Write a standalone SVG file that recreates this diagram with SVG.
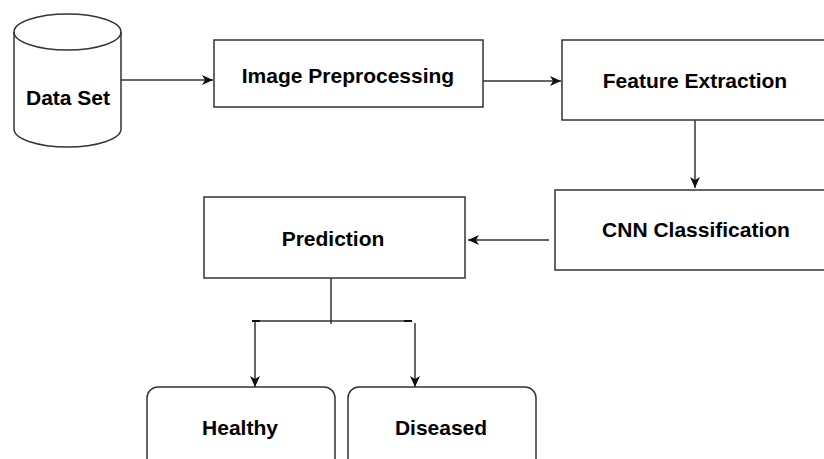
<svg xmlns="http://www.w3.org/2000/svg" width="824" height="459" viewBox="0 0 824 459">
<style>
.box{fill:#fff;stroke:#333;stroke-width:1.5}
.lbl{font-family:"Liberation Sans",Arial,sans-serif;font-weight:bold;font-size:21px;fill:#000;text-anchor:middle}
.edge{fill:none;stroke:#333;stroke-width:1.5}
</style>
<defs>
<marker id="arr" markerWidth="12" markerHeight="10" refX="11" refY="5" orient="auto" markerUnits="userSpaceOnUse">
<path d="M0,0 L11,5 L0,10 L3,5 Z" fill="#111"/>
</marker>
</defs>
<rect width="824" height="459" fill="#fff"/>
<g id="connectors">
<line class="edge" x1="121" y1="80" x2="213" y2="80" marker-end="url(#arr)"/>
<line class="edge" x1="483" y1="81" x2="561" y2="81" marker-end="url(#arr)"/>
<line class="edge" x1="695" y1="120" x2="695" y2="188" marker-end="url(#arr)"/>
<line class="edge" x1="549" y1="240" x2="468" y2="240" marker-end="url(#arr)"/>
<line class="edge" x1="331" y1="278" x2="331" y2="324"/>
<line class="edge" x1="252" y1="321" x2="412" y2="321"/>
<line x1="252" y1="321" x2="260" y2="321" stroke="#111" stroke-width="2"/>
<line x1="404" y1="321" x2="412" y2="321" stroke="#111" stroke-width="2"/>
<line class="edge" x1="255" y1="322" x2="255" y2="387" marker-end="url(#arr)"/>
<line class="edge" x1="415" y1="323" x2="415" y2="387" marker-end="url(#arr)"/>
</g>
<g id="dataset">
<path class="box" d="M14,32 A53.5,18 0 0 1 121,32 L121,129 A53.5,18 0 0 1 14,129 Z"/>
<path class="edge" d="M14,32 A53.5,18 0 0 0 121,32"/>
<text class="lbl" x="68" y="105">Data Set</text>
</g>
<g id="preprocessing">
<rect class="box" x="214" y="40" width="269" height="67"/>
<text class="lbl" x="348" y="83">Image Preprocessing</text>
</g>
<g id="feature">
<rect class="box" x="562" y="40" width="270" height="80"/>
<text class="lbl" x="695" y="88">Feature Extraction</text>
</g>
<g id="cnn">
<rect class="box" x="555" y="190" width="277" height="80"/>
<text class="lbl" x="696" y="237">CNN Classification</text>
</g>
<g id="prediction">
<rect class="box" x="204" y="197" width="261" height="81"/>
<text class="lbl" x="333" y="246">Prediction</text>
</g>
<g id="healthy">
<rect class="box" x="147" y="387" width="188" height="90" rx="11"/>
<text class="lbl" x="240" y="435">Healthy</text>
</g>
<g id="diseased">
<rect class="box" x="348" y="387" width="188" height="90" rx="11"/>
<text class="lbl" x="441" y="435">Diseased</text>
</g>
</svg>
